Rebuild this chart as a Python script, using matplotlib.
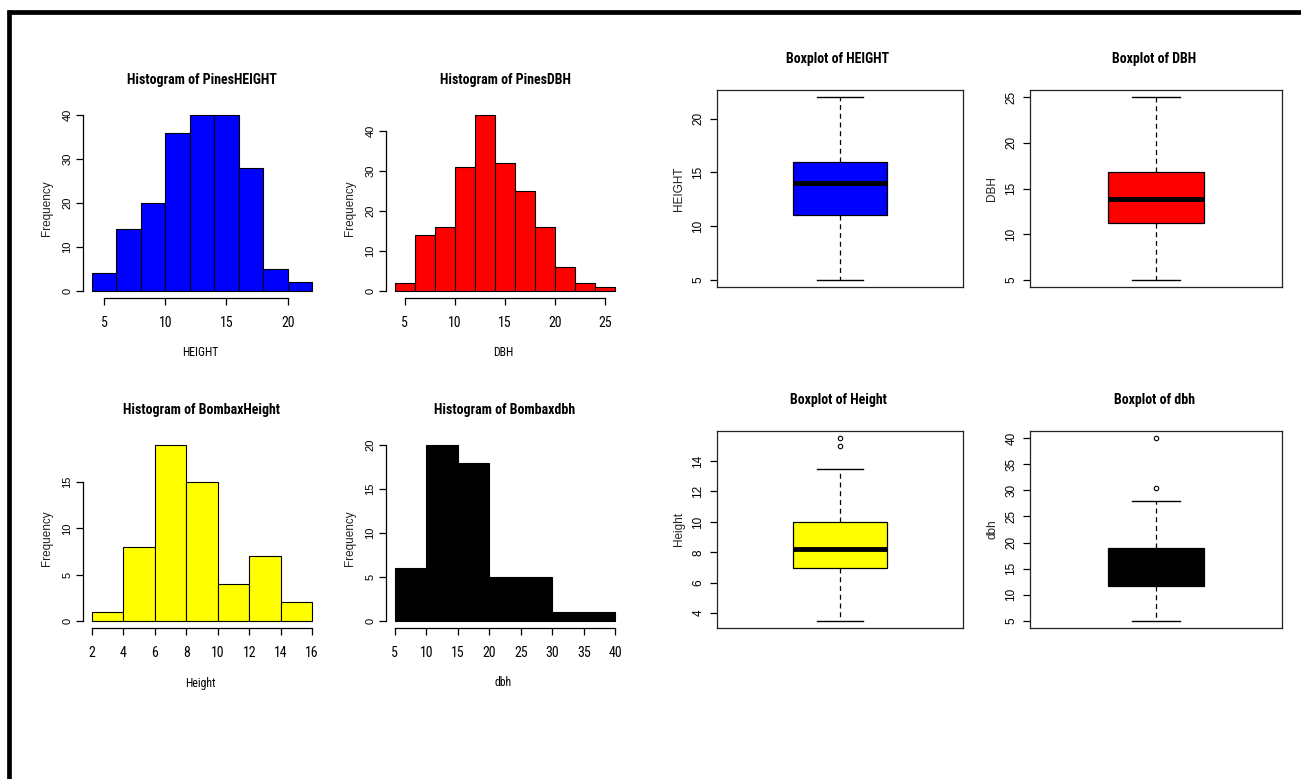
import matplotlib
matplotlib.use("Agg")
import matplotlib.pyplot as plt
from matplotlib import font_manager
from matplotlib.lines import Line2D

# ---------------- data ----------------
pines_height_breaks = [4, 6, 8, 10, 12, 14, 16, 18, 20, 22]
pines_height_counts = [4, 14, 20, 36, 40, 40, 28, 5, 2]
pines_height_xticks = [5, 10, 15, 20]
pines_height_yticks = [0, 10, 20, 30, 40]

pines_dbh_breaks = [4, 6, 8, 10, 12, 14, 16, 18, 20, 22, 24, 26]
pines_dbh_counts = [2, 14, 16, 31, 44, 32, 25, 16, 6, 2, 1]
pines_dbh_xticks = [5, 10, 15, 20, 25]
pines_dbh_yticks = [0, 10, 20, 30, 40]

bombax_height_breaks = [2, 4, 6, 8, 10, 12, 14, 16]
bombax_height_counts = [1, 8, 19, 15, 4, 7, 2]
bombax_height_xticks = [2, 4, 6, 8, 10, 12, 14, 16]
bombax_height_yticks = [0, 5, 10, 15]

bombax_dbh_breaks = [5, 10, 15, 20, 25, 30, 35, 40]
bombax_dbh_counts = [6, 20, 18, 5, 5, 1, 1]
bombax_dbh_xticks = [5, 10, 15, 20, 25, 30, 35, 40]
bombax_dbh_yticks = [0, 5, 10, 15, 20]

# boxplot five-number summaries: whisker low, Q1, median, Q3, whisker high
height_box = [5, 11, 14, 16, 22]
height_out = []
height_yticks = [5, 10, 15, 20]

dbh_box = [5, 11.2, 13.9, 16.8, 25]
dbh_out = []
dbh_yticks = [5, 10, 15, 20, 25]

bheight_box = [3.5, 7, 8.25, 10, 13.5]
bheight_out = [15, 15.5]
bheight_yticks = [4, 6, 8, 10, 12, 14]

bdbh_box = [5, 11.7, 15, 18.9, 28]
bdbh_out = [30.5, 40]
bdbh_yticks = [5, 10, 15, 20, 25, 30, 35, 40]

# ---------------- fonts ----------------
# the screenshot is squeezed sideways, so use a narrow face where one exists
REG = "Liberation Sans"


def wnum(w):
    if isinstance(w, str):
        return font_manager.weight_dict.get(w, 400)
    return int(w)


def is_narrow(f):
    return ("Narrow" in f.name or "Condensed" in f.name or
            str(f.stretch) in ("condensed", "semi-condensed", "extra-condensed"))


prefer = ["Liberation Sans Narrow", "Roboto Condensed", "Open Sans Condensed",
          "Noto Sans Condensed", "DejaVu Sans"]
cands = [f for f in font_manager.fontManager.ttflist if is_narrow(f) and f.style == "normal"]
cands.sort(key=lambda f: prefer.index(f.name) if f.name in prefer else len(prefer))

NREG = next((f for f in cands if 350 <= wnum(f.weight) <= 500), None)
NBOLD = None
if NREG is not None:
    NBOLD = next((f for f in cands if f.name == NREG.name and wnum(f.weight) >= 600), None)
if NBOLD is None:
    NBOLD = next((f for f in cands if wnum(f.weight) >= 600), None)


def narrow(size, bold=False):
    f = NBOLD if bold else NREG
    if f is not None:
        return dict(fontfamily=f.name, fontstretch=f.stretch, fontweight=f.weight,
                    fontsize=size)
    return dict(fontfamily=REG, fontsize=size * 0.84,
                fontweight="bold" if bold else "normal")


W, H = 1301, 779
fig = plt.figure(figsize=(W / 100, H / 100), dpi=100)


def px(x, y):
    return x / W, 1 - y / H


def add_ax(left, top, right, bottom):
    return fig.add_axes([left / W, 1 - bottom / H, (right - left) / W, (bottom - top) / H])


def r_ext(lo, hi):
    d = 0.04 * (hi - lo)
    return lo - d, hi + d


def histogram(box, breaks, counts, color, title, xlabel, xticks, yticks):
    left, top, right, bottom = box
    ax = add_ax(left, top, right, bottom)
    ax.hist(breaks[:-1], bins=breaks, weights=counts, color=color,
            edgecolor="black", linewidth=0.8)
    ax.set_xlim(*r_ext(breaks[0], breaks[-1]))
    ax.set_ylim(*r_ext(0, max(counts)))
    for s in ["top", "right"]:
        ax.spines[s].set_visible(False)
    ax.spines["left"].set_bounds(yticks[0], yticks[-1])
    ax.spines["bottom"].set_bounds(xticks[0], xticks[-1])
    for s in ["left", "bottom"]:
        ax.spines[s].set_linewidth(0.9)
    ax.set_xticks(xticks)
    ax.set_yticks(yticks)
    ax.tick_params(axis="both", direction="out", length=5, width=0.9)
    ax.tick_params(axis="x", pad=8)
    ax.tick_params(axis="y", pad=2.5, labelrotation=90)
    xf = narrow(10)
    for lab in ax.get_xticklabels():
        lab.set_fontfamily(xf["fontfamily"])
        lab.set_fontsize(xf["fontsize"])
        if "fontstretch" in xf:
            lab.set_fontstretch(xf["fontstretch"])
    for lab in ax.get_yticklabels():
        lab.set_fontfamily(REG)
        lab.set_fontsize(8)
        lab.set_va("center")
    cx = (left + right) / 2
    fig.text(*px(cx, top - 28), title, ha="center", va="center", **narrow(10, True))
    fig.text(*px(cx - 2, bottom + 55), xlabel, ha="center", va="center", **narrow(8.5))
    fig.text(*px(left - 36, (top + bottom) / 2 + 5), "Frequency", ha="center", va="center",
             rotation=90, fontfamily=REG, fontsize=8.5, color="#222222")
    return ax


def boxplot(box, five, outs, color, title, ylabel, yticks):
    left, top, right, bottom = box
    ax = add_ax(left, top, right, bottom)
    stats = [dict(whislo=five[0], q1=five[1], med=five[2], q3=five[3],
                  whishi=five[4], fliers=outs)]
    ax.bxp(stats, positions=[1], widths=0.38, patch_artist=True, showfliers=True,
           boxprops=dict(facecolor=color, edgecolor="black", linewidth=0.9),
           medianprops=dict(color="black", linewidth=3.5, solid_capstyle="butt"),
           whiskerprops=dict(color="black", linewidth=0.9, linestyle=(0, (4, 3))),
           capprops=dict(color="black", linewidth=1.0),
           flierprops=dict(marker="o", markerfacecolor="none", markeredgecolor="black",
                           markersize=3.2, markeredgewidth=0.8))
    ax.set_xlim(0.5, 1.5)
    ax.set_ylim(*r_ext(min([five[0]] + outs), max([five[4]] + outs)))
    ax.set_xticks([])
    ax.set_yticks(yticks)
    for s in ax.spines.values():
        s.set_linewidth(0.9)
        s.set_color("#222222")
    ax.tick_params(axis="y", direction="out", length=5, width=0.9, pad=4, labelrotation=90)
    for lab in ax.get_yticklabels():
        lab.set_fontfamily(REG)
        lab.set_fontsize(8.5)
        lab.set_va("center")
    cx = (left + right) / 2
    fig.text(*px(cx - 2, top - 31), title, ha="center", va="center", **narrow(10, True))
    fig.text(*px(left - 38, (top + bottom) / 2), ylabel, ha="center", va="center",
             rotation=90, fontfamily=REG, fontsize=8.5, color="#222222")
    return ax


histogram((83, 108, 321, 298), pines_height_breaks, pines_height_counts, "#0000FF",
          "Histogram of PinesHEIGHT", "HEIGHT", pines_height_xticks, pines_height_yticks)
histogram((386, 108, 624, 298), pines_dbh_breaks, pines_dbh_counts, "#FF0000",
          "Histogram of PinesDBH", "DBH", pines_dbh_xticks, pines_dbh_yticks)
histogram((83, 438, 321, 628), bombax_height_breaks, bombax_height_counts, "#FFFF00",
          "Histogram of BombaxHeight", "Height", bombax_height_xticks, bombax_height_yticks)
histogram((386, 438, 624, 628), bombax_dbh_breaks, bombax_dbh_counts, "#000000",
          "Histogram of Bombaxdbh", "dbh", bombax_dbh_xticks, bombax_dbh_yticks)

boxplot((717, 90, 963, 287), height_box, height_out, "#0000FF",
        "Boxplot of HEIGHT", "HEIGHT", height_yticks)
boxplot((1030, 90, 1282, 287), dbh_box, dbh_out, "#FF0000",
        "Boxplot of DBH", "DBH", dbh_yticks)
boxplot((717, 431, 963, 628), bheight_box, bheight_out, "#FFFF00",
        "Boxplot of Height", "Height", bheight_yticks)
boxplot((1030, 431, 1282, 628), bdbh_box, bdbh_out, "#000000",
        "Boxplot of dbh", "dbh", bdbh_yticks)

# thick frame on top and left edge of the screenshot
fig.add_artist(Line2D([7 / W, 1], [1 - 12 / H] * 2, transform=fig.transFigure,
                      color="black", linewidth=3.4, solid_capstyle="butt"))
fig.add_artist(Line2D([9 / W] * 2, [1 - 10 / H, 0], transform=fig.transFigure,
                      color="black", linewidth=3.4, solid_capstyle="butt"))

fig.savefig("out.png", dpi=100, facecolor="white")
